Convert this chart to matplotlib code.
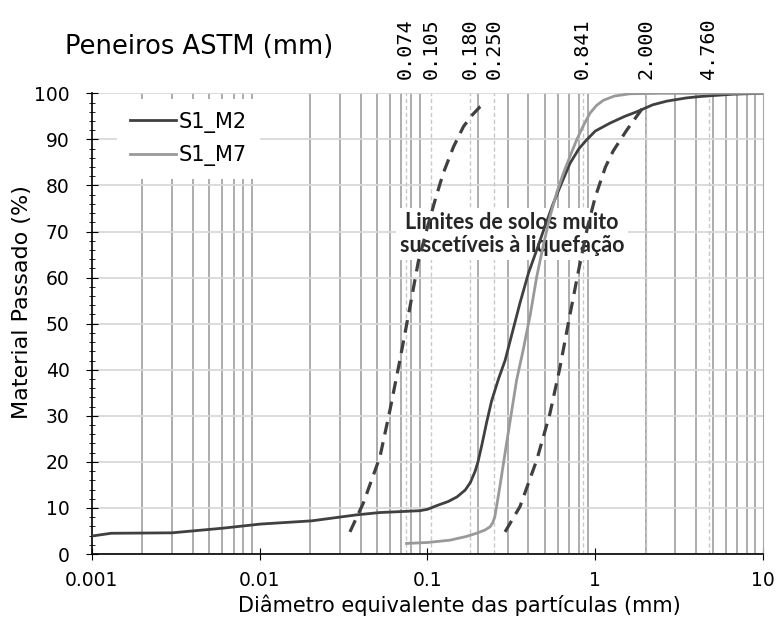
import matplotlib
matplotlib.use('Agg')
import matplotlib.pyplot as plt
from matplotlib.ticker import FixedLocator, NullFormatter, MultipleLocator

# grain size curves (mm, % passing)
m2_d = [0.001, 0.0013, 0.003, 0.006, 0.0101, 0.0204, 0.0378, 0.052, 0.09, 0.1,
        0.1135, 0.133, 0.15, 0.168, 0.18, 0.192, 0.2, 0.211, 0.225, 0.241,
        0.265, 0.29, 0.32, 0.356, 0.4, 0.448, 0.5, 0.562, 0.63, 0.707,
        0.8, 0.889, 1.0, 1.22, 1.5, 1.77, 2.2, 2.67, 3.5, 4.21, 6.6, 10]
m2_p = [3.9, 4.5, 4.6, 5.6, 6.5, 7.2, 8.5, 9.0, 9.4, 9.7,
        10.5, 11.4, 12.4, 13.9, 15.5, 17.9, 20.0, 23.7, 28.5, 33.2,
        38.0, 42.0, 48.0, 54.5, 61.0, 66.0, 71.0, 76.1, 80.5, 84.8,
        88.0, 89.9, 91.8, 93.5, 95.0, 96.0, 97.5, 98.3, 99.0, 99.3, 99.8, 100]

m7_d = [0.0751, 0.1, 0.136, 0.17, 0.196, 0.22, 0.236, 0.245, 0.252, 0.26,
        0.270, 0.296, 0.340, 0.372, 0.41, 0.448, 0.49, 0.537, 0.59, 0.645,
        0.71, 0.775, 0.85, 0.931, 1.02, 1.12, 1.3, 1.61, 2.5, 10]
m7_p = [2.3, 2.5, 3.0, 3.8, 4.5, 5.2, 5.9, 6.8, 8.1, 11.0,
        14.6, 24.0, 37.8, 44.3, 52.0, 60.2, 67.0, 73.2, 78.5, 82.6,
        86.5, 89.9, 93.0, 95.7, 97.4, 98.5, 99.4, 99.9, 100, 100]

# limits of soils highly susceptible to liquefaction
lim1_d = [0.0345, 0.0414, 0.0521, 0.0598, 0.0685, 0.0787, 0.0881, 0.1, 0.111, 0.124,
          0.143, 0.164, 0.185, 0.206, 0.215]
lim1_p = [4.8, 11.0, 21.1, 31.3, 42.1, 53.7, 63.4, 71.0, 76.8, 82.6,
          88.4, 92.8, 95.3, 97.1, 97.6]
lim2_d = [0.290, 0.356, 0.448, 0.537, 0.616, 0.707, 0.8, 0.9, 1.0, 1.15,
          1.28, 1.54, 1.89, 2.0]
lim2_p = [4.8, 10.3, 20.4, 30.5, 40.5, 52.0, 62.0, 71.0, 77.5, 84.0,
          87.5, 92.0, 96.5, 97.6]

sieves = [0.074, 0.105, 0.180, 0.250, 0.841, 2.000, 4.760]
sieve_labels = ['0.074', '0.105', '0.180', '0.250', '0.841', '2.000', '4.760']

fig = plt.figure(figsize=(7.79, 6.22), dpi=100)
ax = fig.add_axes([0.118, 0.1093, 0.8615, 0.7407])

ax.set_xscale('log')
ax.set_xlim(0.001, 10)
ax.set_ylim(0, 100)

# gridlines
ax.set_axisbelow(True)
ax.xaxis.set_minor_locator(FixedLocator([k * 10.0 ** e for e in range(-3, 1) for k in range(2, 10)] + [10]))
ax.xaxis.set_minor_formatter(NullFormatter())
ax.grid(True, which='minor', axis='x', color='#a6a6a6', lw=1.3)
ax.grid(True, which='major', axis='y', color='#d9d9d9', lw=1.3)
ax.tick_params(axis='x', which='minor', length=0)

for s in sieves:
    ax.axvline(s, color='#c8c8c8', lw=1.0, ls=(0, (3, 2)), zorder=0.8)

ax.plot(m2_d, m2_p, color='#404040', lw=2.0, label='S1_M2', zorder=3)
ax.plot(m7_d, m7_p, color='#999999', lw=2.0, label='S1_M7', zorder=3)
ax.plot(lim1_d, lim1_p, color='#404040', lw=2.3, ls=(0, (4, 2.5)), zorder=3)
ax.plot(lim2_d, lim2_p, color='#404040', lw=2.3, ls=(0, (4, 2.5)), zorder=3)

ax.text(0.319, 69.4, 'Limites de solos muito\nsuscetíveis à liquefação', family='Lato',
        fontweight='bold', fontsize=15.5, ha='center', va='center', linespacing=1.1,
        color='#262626',
        bbox=dict(facecolor='white', edgecolor='none', pad=3), zorder=1.5)

leg = ax.legend(loc='upper left', bbox_to_anchor=(0.038, 0.987), frameon=True, fontsize=15,
                handlelength=2.2, handletextpad=0.15, labelspacing=0.6, borderpad=0.6,
                borderaxespad=0)
leg.get_frame().set_edgecolor('none')
leg.get_frame().set_facecolor('white')
leg.get_frame().set_alpha(1)
leg.get_frame().set_boxstyle('square', pad=0)

ax.set_xticks([0.001, 0.01, 0.1, 1, 10])
ax.set_xticklabels(['0.001', '0.01', '0.1', '1', '10'])
ax.yaxis.set_major_locator(MultipleLocator(10))
ax.yaxis.set_minor_locator(MultipleLocator(2))
ax.tick_params(axis='x', which='major', direction='inout', length=8, labelsize=13.5, pad=8)
ax.tick_params(axis='y', which='major', direction='inout', length=8, labelsize=13.5, pad=12)
ax.tick_params(axis='y', which='minor', direction='inout', length=5)

ax.spines['top'].set_visible(False)
ax.spines['right'].set_color('#a6a6a6')
ax.spines['left'].set_linewidth(1.2)
ax.spines['bottom'].set_linewidth(1.2)

ax.set_xlabel('Diâmetro equivalente das partículas (mm)', fontsize=15)
ax.set_ylabel('Material Passado (%)', fontsize=16)
ax.xaxis.set_label_coords(0.548, -0.088)
ax.yaxis.set_label_coords(-0.09, 0.547)

# sieve axis on top
top = ax.secondary_xaxis('top')
top.set_xticks(sieves)
top.set_xticklabels(sieve_labels, rotation=90, family='DejaVu Sans Mono', fontsize=14.5)
top.xaxis.set_minor_locator(FixedLocator([]))
top.tick_params(axis='x', length=0, pad=10)
top.spines['top'].set_visible(False)

fig.text(0.083, 0.924, 'Peneiros ASTM (mm)', fontsize=18.5, ha='left', va='center')

fig.savefig('out.png', dpi=100)
